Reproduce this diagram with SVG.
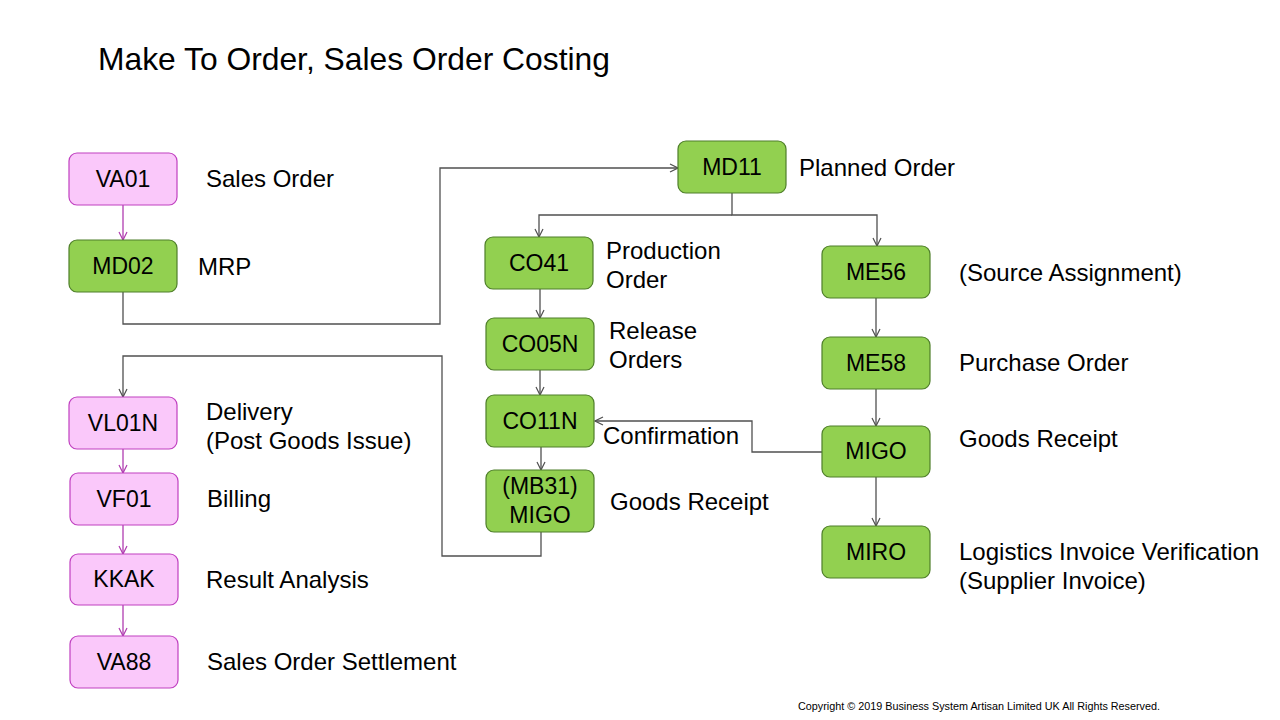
<svg xmlns="http://www.w3.org/2000/svg" width="1280" height="720" viewBox="0 0 1280 720">
<style>
text{font-family:"Liberation Sans",Arial,sans-serif;fill:#000}
.title{font-size:31.8px}
.lbl{font-size:24px}
.nt{font-size:23px;text-anchor:middle}
.g{fill:#92D050;stroke:#4F7F2A;stroke-width:1.2}
.p{fill:#FAC8FA;stroke:#C040C0;stroke-width:1.2}
.c{fill:none;stroke:#505050;stroke-width:1.3}
.m{fill:none;stroke:#B03CB0;stroke-width:1.3}
.cr{font-size:10.8px}
</style>
<defs>
<marker id="ag" markerWidth="10" markerHeight="10" refX="9" refY="5" orient="auto" markerUnits="userSpaceOnUse">
<path d="M1,1 L9,5 L1,9" fill="none" stroke="#505050" stroke-width="1.2"/>
</marker>
<marker id="am" markerWidth="10" markerHeight="10" refX="9" refY="5" orient="auto" markerUnits="userSpaceOnUse">
<path d="M1,1 L9,5 L1,9" fill="none" stroke="#B03CB0" stroke-width="1.2"/>
</marker>
</defs>
<rect width="1280" height="720" fill="#fff"/>
<text class="title" x="98" y="70">Make To Order, Sales Order Costing</text>

<g id="connectors">
<path class="m" d="M123,205 V240" marker-end="url(#am)"/>
<path class="c" d="M123,292 V324 H440 V168 H678" marker-end="url(#ag)"/>
<path class="c" d="M732,193 V215 H877 V246" marker-end="url(#ag)"/>
<path class="c" d="M732,215 H539 V237" marker-end="url(#ag)"/>
<path class="c" d="M540,289 V318" marker-end="url(#ag)"/>
<path class="c" d="M540,370 V395" marker-end="url(#ag)"/>
<path class="c" d="M541,447 V470" marker-end="url(#ag)"/>
<path class="c" d="M876,298 V337" marker-end="url(#ag)"/>
<path class="c" d="M876,389 V426" marker-end="url(#ag)"/>
<path class="c" d="M876,477 V526" marker-end="url(#ag)"/>
<path class="c" d="M822,452 H752 V421 H595" marker-end="url(#ag)"/>
<path class="c" d="M541,532 V556 H442 V356 H123 V397" marker-end="url(#ag)"/>
<path class="m" d="M123,449 V473" marker-end="url(#am)"/>
<path class="m" d="M123,525 V554" marker-end="url(#am)"/>
<path class="m" d="M123,605 V636" marker-end="url(#am)"/>
</g>

<g id="VA01"><rect class="p" x="69" y="153" width="108" height="52" rx="8"/><text class="nt" x="123" y="187">VA01</text></g>
<g id="MD02"><rect class="g" x="69" y="240" width="108" height="52" rx="8"/><text class="nt" x="123" y="274">MD02</text></g>
<g id="MD11"><rect class="g" x="678" y="141" width="108" height="52" rx="8"/><text class="nt" x="732" y="175">MD11</text></g>
<g id="CO41"><rect class="g" x="485" y="237" width="108" height="52" rx="8"/><text class="nt" x="539" y="271">CO41</text></g>
<g id="ME56"><rect class="g" x="822" y="246" width="108" height="52" rx="8"/><text class="nt" x="876" y="280">ME56</text></g>
<g id="CO05N"><rect class="g" x="486" y="318" width="108" height="52" rx="8"/><text class="nt" x="540" y="352">CO05N</text></g>
<g id="ME58"><rect class="g" x="822" y="337" width="108" height="52" rx="8"/><text class="nt" x="876" y="371">ME58</text></g>
<g id="CO11N"><rect class="g" x="486" y="395" width="108" height="52" rx="8"/><text class="nt" x="540" y="429">CO11N</text></g>
<g id="MIGO"><rect class="g" x="822" y="426" width="108" height="51" rx="8"/><text class="nt" x="876" y="459">MIGO</text></g>
<g id="MB31"><rect class="g" x="486" y="470" width="108" height="62" rx="8"/><text class="nt" x="540" y="494">(MB31)</text><text class="nt" x="540" y="523">MIGO</text></g>
<g id="MIRO"><rect class="g" x="822" y="526" width="108" height="52" rx="8"/><text class="nt" x="876" y="560">MIRO</text></g>
<g id="VL01N"><rect class="p" x="69" y="397" width="108" height="52" rx="8"/><text class="nt" x="123" y="431">VL01N</text></g>
<g id="VF01"><rect class="p" x="70" y="473" width="108" height="52" rx="8"/><text class="nt" x="124" y="507">VF01</text></g>
<g id="KKAK"><rect class="p" x="70" y="554" width="108" height="51" rx="8"/><text class="nt" x="124" y="587">KKAK</text></g>
<g id="VA88"><rect class="p" x="70" y="636" width="108" height="52" rx="8"/><text class="nt" x="124" y="670">VA88</text></g>

<g id="labels">
<text class="lbl" x="206" y="187">Sales Order</text>
<text class="lbl" x="198" y="275">MRP</text>
<text class="lbl" x="799" y="176">Planned Order</text>
<text class="lbl" x="606" y="259">Production</text>
<text class="lbl" x="606" y="288">Order</text>
<text class="lbl" x="959" y="281">(Source Assignment)</text>
<text class="lbl" x="609" y="339">Release</text>
<text class="lbl" x="609" y="368">Orders</text>
<text class="lbl" x="959" y="371">Purchase Order</text>
<text class="lbl" x="603" y="444">Confirmation</text>
<text class="lbl" x="959" y="447">Goods Receipt</text>
<text class="lbl" x="610" y="510">Goods Receipt</text>
<text class="lbl" x="959" y="560">Logistics Invoice Verification</text>
<text class="lbl" x="959" y="589">(Supplier Invoice)</text>
<text class="lbl" x="206" y="420">Delivery</text>
<text class="lbl" x="206" y="449">(Post Goods Issue)</text>
<text class="lbl" x="207" y="507">Billing</text>
<text class="lbl" x="206" y="588">Result Analysis</text>
<text class="lbl" x="207" y="670">Sales Order Settlement</text>
<text class="cr" x="798" y="710">Copyright © 2019 Business System Artisan Limited  UK All Rights  Reserved.</text>
</g>
</svg>
